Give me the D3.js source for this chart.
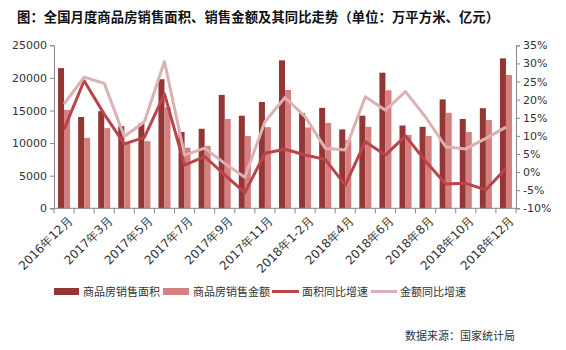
<!DOCTYPE html>
<html><head><meta charset="utf-8">
<script src="https://cdn.jsdelivr.net/npm/d3@7/dist/d3.min.js"></script>
<style>
html,body{margin:0;padding:0;background:#fff;}
svg{display:block;}
</style></head>
<body><svg id="c" width="566" height="350"></svg>
<script>
const categories = ["2016年12月","2017年1-2月","2017年3月","2017年4月","2017年5月","2017年6月","2017年7月","2017年8月","2017年9月","2017年10月","2017年11月","2017年12月","2018年1-2月","2018年3月","2018年4月","2018年5月","2018年6月","2018年7月","2018年8月","2018年9月","2018年10月","2018年11月","2018年12月"];
const areaValues = [21500,14000,14900,12600,13000,19800,11700,12200,17400,14200,16300,22700,14600,15400,12100,14200,20800,12700,12500,16700,13700,15350,23000];
const amountValues = [15100,10800,12300,10000,10300,15500,9300,9560,13700,11100,12450,18150,12400,13100,10500,12500,18100,11250,11100,14650,11700,13540,20440];
const areaGrowth = [11.8,25.2,16.0,7.8,9.6,21.6,1.9,4.3,-0.8,-5.7,5.2,6.3,4.7,3.5,-3.6,8.4,4.7,10.0,3.0,-3.3,-3.1,-4.9,1.0];
const amountGrowth = [18.8,26.2,24.5,9.8,13.9,30.5,4.7,6.6,2.4,-1.4,13.9,20.6,15.3,6.6,6.1,20.8,17.1,22.2,15.2,7.0,6.4,9.3,12.4];
const leftTicks = [0,5000,10000,15000,20000,25000];
const rightTicks = [-10,-5,0,5,10,15,20,25,30,35];
const seriesNames = ["商品房销售面积","商品房销售金额","面积同比增速","金额同比增速"];
const titleText = "图：全国月度商品房销售面积、销售金额及其同比走势（单位：万平方米、亿元）";
const sourceText = "数据来源：国家统计局";

const C = {dark:"#943634", light:"#d47f80", lineDark:"#b9454a", lineLight:"#dcb1b4", axis:"#868686", text:"#333"};
const svg = d3.select("#c");
const L = 54, R = 516, T = 45.3, B = 208.3;

const x = d3.scaleBand().domain(categories).range([L,R]).paddingInner(0.4).paddingOuter(0.2);
const xc = d3.scaleBand().domain(categories).range([L,R]);
const y = d3.scaleLinear().domain([0,25000]).range([B,T]);
const y2 = d3.scaleLinear().domain([-10,35]).range([B,T]);

// title
svg.append("text").attr("x",17).attr("y",22).attr("font-family","'Noto Sans CJK SC'")
  .attr("font-size",13.3).attr("font-weight","bold").attr("fill","#111")
  .attr("textLength",482).attr("lengthAdjust","spacing").text(titleText);

// bars
const bw = x.bandwidth()/2;
svg.append("g").selectAll("rect").data(categories).join("rect")
  .attr("x",(d)=>x(d)).attr("width",bw)
  .attr("y",(d,i)=>y(areaValues[i])).attr("height",(d,i)=>B-y(areaValues[i]))
  .attr("fill",C.dark);
svg.append("g").selectAll("rect").data(categories).join("rect")
  .attr("x",(d)=>x(d)+bw).attr("width",bw)
  .attr("y",(d,i)=>y(amountValues[i])).attr("height",(d,i)=>B-y(amountValues[i]))
  .attr("fill",C.light);

// lines
const line = (arr)=>d3.line().x((d,i)=>xc(categories[i])+xc.bandwidth()/2).y(d=>y2(d))(arr);
svg.append("path").attr("d",line(areaGrowth)).attr("fill","none").attr("stroke",C.lineDark).attr("stroke-width",3).attr("stroke-linejoin","round");
svg.append("path").attr("d",line(amountGrowth)).attr("fill","none").attr("stroke",C.lineLight).attr("stroke-width",3).attr("stroke-linejoin","round");

// axes
const fontNum = "'DejaVu Sans'";
const gl = svg.append("g").attr("transform",`translate(${L},0)`)
  .call(d3.axisLeft(y).tickValues(leftTicks).tickSize(4).tickPadding(3).tickFormat(d3.format("d")));
const gr = svg.append("g").attr("transform",`translate(${R},0)`)
  .call(d3.axisRight(y2).tickValues(rightTicks).tickSize(4).tickPadding(3).tickFormat(d=>d+"%"));
[gl,gr].forEach(g=>{
  g.select(".domain").attr("stroke",C.axis);
  g.selectAll(".tick line").attr("stroke",C.axis);
  g.selectAll("text").attr("font-family",fontNum).attr("font-size",11).attr("fill",C.text);
});
// x axis
const gx = svg.append("g");
gx.append("line").attr("x1",L).attr("x2",R).attr("y1",B).attr("y2",B).attr("stroke",C.axis);
gx.selectAll("line.t").data(categories.concat(["end"])).join("line").attr("class","t")
  .attr("x1",(d,i)=>L+i*xc.step()).attr("x2",(d,i)=>L+i*xc.step())
  .attr("y1",B).attr("y2",B+5).attr("stroke",C.axis);
gx.selectAll("text").data(categories.filter((d,i)=>i%2===0)).join("text")
  .attr("transform",d=>`translate(${xc(d)+xc.bandwidth()/2+6},${B+10}) rotate(-45)`)
  .attr("text-anchor","end").attr("dy","0.35em")
  .attr("font-family",fontNum).attr("font-size",12).attr("fill",C.text).text(d=>d);

// legend
const lg = svg.append("g").attr("font-family","'Noto Sans CJK SC'").attr("font-size",11).attr("fill",C.text);
const items = [
  {t:"rect",c:C.dark,x:54,w:25,tx:83},
  {t:"rect",c:C.light,x:163,w:26,tx:193},
  {t:"line",c:C.lineDark,x:272,w:27,tx:302},
  {t:"line",c:C.lineLight,x:371,w:26,tx:400}
];
items.forEach((it,i)=>{
  if(it.t==="rect") lg.append("rect").attr("x",it.x).attr("y",288).attr("width",it.w).attr("height",7).attr("fill",it.c);
  else lg.append("line").attr("x1",it.x).attr("x2",it.x+it.w).attr("y1",291.5).attr("y2",291.5).attr("stroke",it.c).attr("stroke-width",3);
  lg.append("text").attr("x",it.tx).attr("y",295.5).text(seriesNames[i]);
});

svg.append("text").attr("x",515).attr("y",340).attr("text-anchor","end")
  .attr("font-family","'Noto Sans CJK SC'").attr("font-size",11).attr("fill",C.text).text(sourceText);
</script></body></html>
